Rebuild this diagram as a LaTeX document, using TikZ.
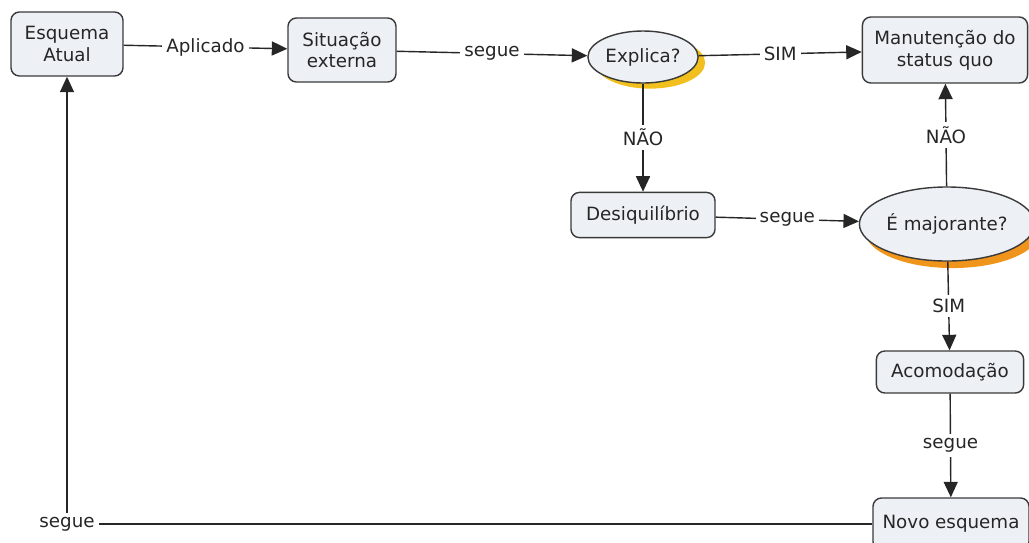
\documentclass[tikz,border=0pt]{standalone}
\usepackage{fontspec}
\setmainfont{DejaVu Sans}
\usetikzlibrary{shapes.geometric, arrows.meta, shadows}
\definecolor{boxfill}{HTML}{EDF1F5}
\definecolor{boxline}{HTML}{3A3A3A}
\definecolor{shadowyellow}{HTML}{F2C01E}
\definecolor{shadoworange}{HTML}{F0951C}

\begin{document}
\begin{tikzpicture}[x=0.025cm, y=-0.025cm, font=\fontsize{13}{15.5}\selectfont]
        \tikzstyle{concept} = [rectangle, rounded corners=6pt, draw=boxline, line width=1pt, fill=boxfill, align=center, inner sep=2pt, text=black!85]
        \tikzstyle{question} = [ellipse, draw=boxline, line width=1pt, fill=boxfill, inner sep=1pt, text=black!85]
        \tikzstyle{link} = [-{Triangle[length=11pt, width=10pt]}, line width=1pt, black!85]
        \tikzstyle{tag} = [fill=white, inner sep=3pt, text=black!85]

\useasboundingbox (0,0) rectangle (1029,542);

\node[concept, minimum width=2.8cm, minimum height=1.6cm] (esquema) at (67,44) {Esquema\\Atual};
        \node[concept, minimum width=2.7cm, minimum height=1.6cm] (situacao) at (342,50) {Situação\\externa};
        \node[question, minimum width=2.75cm, minimum height=1.3cm,
              drop shadow={shadow xshift=5pt, shadow yshift=-4pt, fill=shadowyellow, opacity=1}] (explica) at (643,57) {Explica?};
        \node[concept, minimum width=4.13cm, minimum height=1.65cm] (manutencao) at (945,50) {Manutenção do\\status quo};

\node[concept, minimum width=3.6cm, minimum height=1.13cm] (desequilibrio) at (643,215) {Desiquilíbrio};
        \node[question, minimum width=3.98cm, minimum height=1.85cm,
              drop shadow={shadow xshift=4pt, shadow yshift=-5pt, fill=shadoworange, opacity=1}] (majorante) at (947,224) {É majorante?};

\node[concept, minimum width=3.68cm, minimum height=1.05cm] (acomodacao) at (950,372) {Acomodação};
        \node[concept, minimum width=3.9cm, minimum height=1.3cm] (novo) at (951,524) {Novo esquema};

\draw[link] (esquema) -- node[tag] {Aplicado} (situacao);
        \draw[link] (situacao) -- node[tag] {segue} (explica);
        \draw[link] (explica) -- node[tag] {SIM} (manutencao);
        \draw[link] (explica) -- node[tag] {NÃO} (desequilibrio);
        \draw[link] (desequilibrio) -- node[tag] {segue} (majorante);
        \draw[link] (majorante) -- node[tag] {NÃO} (manutencao);
        \draw[link] (majorante) -- node[tag] {SIM} (acomodacao);
        \draw[link] (acomodacao) -- node[tag] {segue} (novo);
        \draw[link] (novo.west) -| node[tag, pos=0.5] {segue} (esquema.south);

    \end{tikzpicture}
\end{document}
